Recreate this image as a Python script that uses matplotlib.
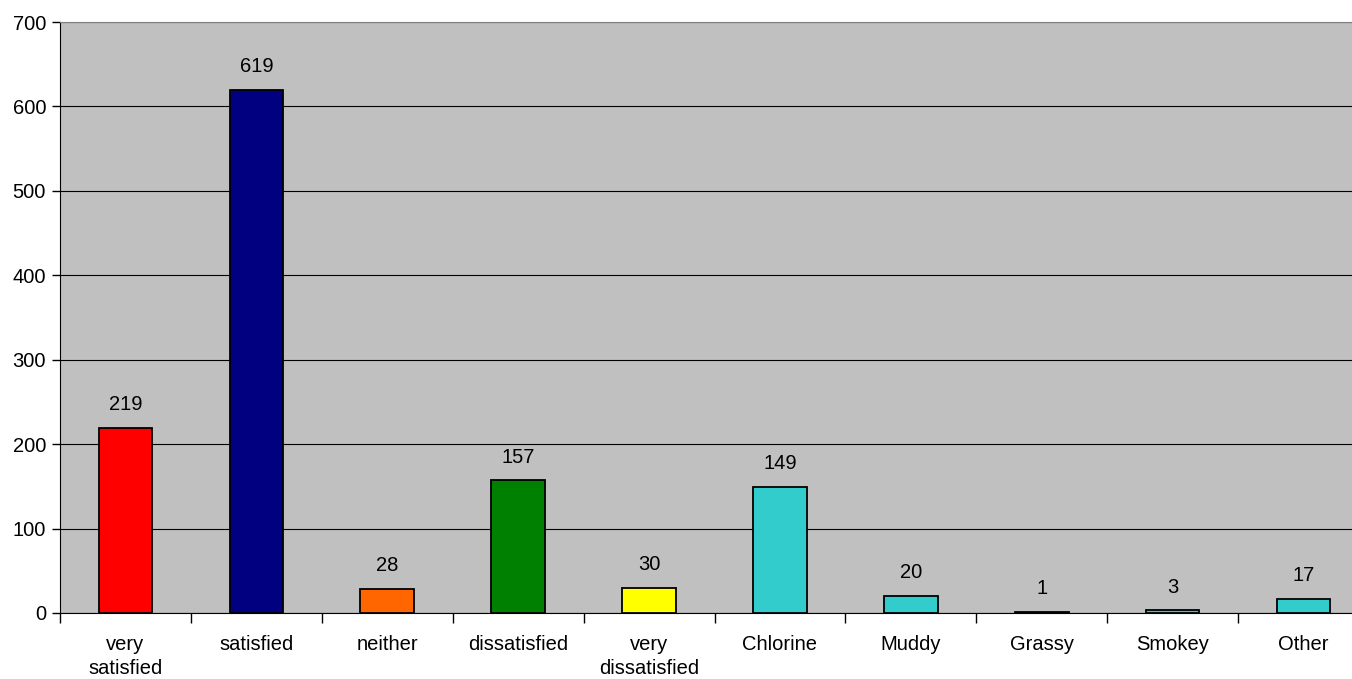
import matplotlib
matplotlib.use("Agg")
import matplotlib.pyplot as plt
from matplotlib.ticker import FixedLocator

categories = ["very\nsatisfied", "satisfied", "neither", "dissatisfied", "very\ndissatisfied",
              "Chlorine", "Muddy", "Grassy", "Smokey", "Other"]
values = [219, 619, 28, 157, 30, 149, 20, 1, 3, 17]
colors = ["#FF0000", "#000080", "#FF6600", "#008000", "#FFFF00",
          "#33CCCC", "#33CCCC", "#33CCCC", "#33CCCC", "#33CCCC"]
yticks = [0, 100, 200, 300, 400, 500, 600, 700]

plt.rcParams['font.family'] = ['Liberation Sans', 'DejaVu Sans']

fig = plt.figure(figsize=(13.52, 6.79), dpi=100)
# axes extends slightly past the right edge of the canvas (clipped, as in the reference)
ax = fig.add_axes([60/1352, 66/679, 1309/1352, (613-22)/679])
ax.set_facecolor("#C0C0C0")

x = list(range(len(categories)))
ax.bar(x, values, width=0.41, color=colors, edgecolor="black", linewidth=1.3, zorder=3)
for xi, v in zip(x, values):
    ax.annotate(str(v), (xi, v), xytext=(0, 10), textcoords="offset points",
                ha="center", va="bottom", fontsize=14.5)

ax.set_xlim(-0.5, len(categories) - 0.5)
ax.set_ylim(0, 700)
ax.set_yticks(yticks)
ax.set_yticklabels([str(t) for t in yticks], fontsize=14.5)
ax.yaxis.grid(True, color="black", linewidth=0.8, zorder=1)
ax.set_axisbelow(True)

ax.set_xticks(x)
ax.set_xticklabels(categories, fontsize=14.5, linespacing=1.35)
ax.tick_params(axis="x", length=0, pad=16)
ax.xaxis.set_minor_locator(FixedLocator([i - 0.5 for i in range(len(categories) + 1)]))
ax.tick_params(axis="x", which="minor", length=7, width=1, color="black")
ax.tick_params(axis="y", length=6, width=1, color="black", pad=4)

ax.spines["right"].set_visible(False)
ax.spines["top"].set_color("#808080")
ax.spines["left"].set_color("black")
ax.spines["bottom"].set_color("black")

fig.savefig("out.png", dpi=100)
